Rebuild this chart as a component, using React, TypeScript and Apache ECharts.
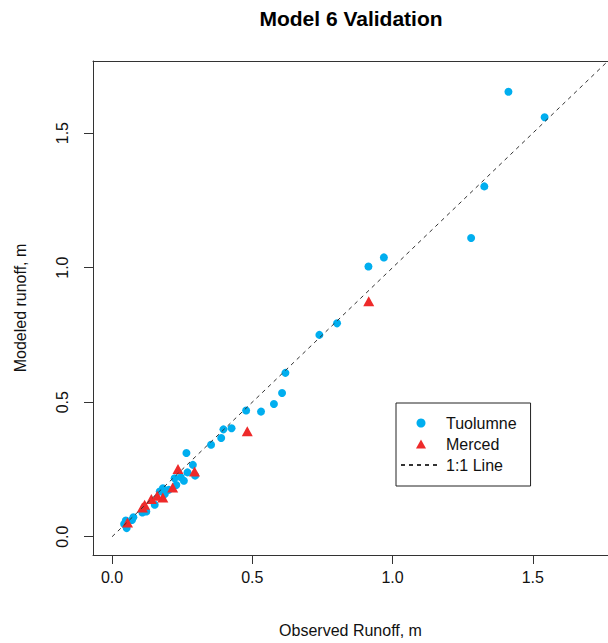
import React, { useEffect, useRef } from "react";
import * as echarts from "echarts";

const titleText = "Model 6 Validation";
const xTitle = "Observed Runoff, m";
const yTitle = "Modeled runoff, m";
const tickValues = [0, 0.5, 1.0, 1.5];
const seriesNames = ["Tuolumne", "Merced", "1:1 Line"];

const tuolumne: [number, number][] = [
  [1.413, 1.654], [1.542, 1.559], [1.327, 1.302], [1.28, 1.11],
  [0.969, 1.038], [0.914, 1.004], [0.802, 0.793], [0.739, 0.75],
  [0.618, 0.609], [0.606, 0.534], [0.577, 0.493], [0.531, 0.465],
  [0.478, 0.469], [0.426, 0.403], [0.397, 0.399], [0.389, 0.367],
  [0.353, 0.342], [0.265, 0.311], [0.288, 0.267], [0.269, 0.239],
  [0.296, 0.227], [0.256, 0.208], [0.245, 0.221], [0.223, 0.217],
  [0.229, 0.192], [0.202, 0.174], [0.181, 0.18], [0.17, 0.168],
  [0.188, 0.159], [0.152, 0.119], [0.122, 0.094], [0.108, 0.09],
  [0.076, 0.072], [0.071, 0.062], [0.049, 0.06], [0.043, 0.047],
  [0.052, 0.032],
];

const merced: [number, number][] = [
  [0.915, 0.875], [0.482, 0.392], [0.235, 0.252], [0.294, 0.242],
  [0.216, 0.183], [0.181, 0.146], [0.161, 0.152], [0.14, 0.14],
  [0.116, 0.119], [0.108, 0.109], [0.055, 0.053],
];

const oneToOne: [number, number][] = [
  [0, 0],
  [1.9, 1.9],
];

const FONT = "'Liberation Sans', Arial, sans-serif";
const TRIANGLE = "path://M5,0 L10,9 L0,9 Z";

export default function App() {
  const ref = useRef<HTMLDivElement>(null);
  useEffect(() => {
    if (!ref.current) return;
    const chart = echarts.init(ref.current, null, { renderer: "svg" });
    const boxLine = { show: true, onZero: false, lineStyle: { color: "#333", width: 1 } };
    const axisCommon = {
      type: "value" as const,
      min: -0.068,
      max: 1.768,
      splitLine: { show: false },
      axisLine: boxLine,
      axisTick: {
        show: true,
        customValues: tickValues,
        length: 9,
        inside: false,
        lineStyle: { color: "#333", width: 1 },
      },
      nameLocation: "middle" as const,
      nameTextStyle: { fontFamily: FONT, fontSize: 16, color: "#111" },
    };
    chart.setOption({
      animation: false,
      backgroundColor: "#fff",
      textStyle: { fontFamily: FONT },
      graphic: [
        {
          type: "text",
          x: 351,
          y: 18,
          style: {
            text: titleText,
            align: "center",
            verticalAlign: "middle",
            fontFamily: FONT,
            fontSize: 21,
            fontWeight: "bold",
            fill: "#000",
          },
        },
      ],
      grid: {
        show: false,
        left: 93,
        top: 61,
        right: -5,
        bottom: 87,
      },
      xAxis: [
        {
          ...axisCommon,
          position: "bottom",
          name: xTitle,
          nameGap: 67,
          axisLabel: {
            customValues: tickValues,
            formatter: (v: number) => v.toFixed(1),
            margin: 14,
            fontFamily: FONT,
            fontSize: 16,
            color: "#111",
          },
        },
        {
          type: "value",
          position: "top",
          min: -0.068,
          max: 1.768,
          axisLine: boxLine,
          axisTick: { show: false },
          axisLabel: { show: false },
          splitLine: { show: false },
        },
      ],
      yAxis: {
        ...axisCommon,
        position: "left",
        name: yTitle,
        nameGap: 65,
        axisLabel: {
          customValues: tickValues,
          formatter: (v: number) => v.toFixed(1),
          rotate: 90,
          margin: 23,
          fontFamily: FONT,
          fontSize: 16,
          color: "#111",
        },
      },
      legend: {
        show: true,
        orient: "vertical",
        left: 396,
        top: 403,
        symbolKeepAspect: true,
        data: [
          { name: seriesNames[0], icon: "circle" },
          { name: seriesNames[1], icon: TRIANGLE },
          { name: seriesNames[2], itemStyle: { opacity: 0 } },
        ],
        borderColor: "#222",
        borderWidth: 1,
        borderRadius: 0,
        backgroundColor: "#fff",
        padding: [11, 14, 12, 4],
        itemWidth: 40,
        itemHeight: 9,
        itemGap: 3,
        textStyle: { fontFamily: FONT, fontSize: 16, color: "#111", lineHeight: 18 },
      },
      series: [
        {
          name: seriesNames[0],
          type: "scatter",
          data: tuolumne,
          symbol: "circle",
          symbolSize: 8,
          itemStyle: { color: "#00AEEF", opacity: 1 },
        },
        {
          name: seriesNames[1],
          type: "scatter",
          data: merced,
          symbol: "triangle",
          symbolSize: [11, 10],
          itemStyle: { color: "#EE2A2A", opacity: 1 },
        },
        {
          name: seriesNames[2],
          type: "line",
          data: oneToOne,
          symbol: "none",
          clip: true,
          itemStyle: { color: "#333" },
          lineStyle: { color: "#333", width: 1, type: [4, 4] },
        },
      ],
    });
    return () => chart.dispose();
  }, []);
  return (
    <div
      ref={ref}
      style={{ position: "fixed", left: 0, top: 0, width: 608, height: 643 }}
    />
  );
}
